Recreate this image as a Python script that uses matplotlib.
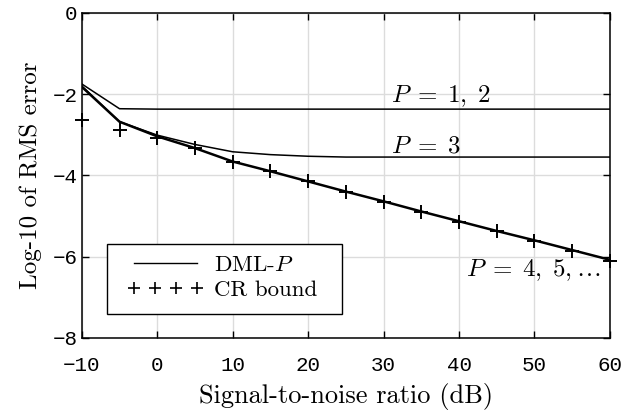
import numpy as np
import matplotlib
matplotlib.use("Agg")
import matplotlib.pyplot as plt
from matplotlib.patches import Rectangle

plt.rcParams['mathtext.fontset'] = 'cm'

snr_db = [-10, -5, 0, 5, 10, 15, 20, 25, 30, 35, 40, 45, 50, 55, 60]

# log10 RMS error, DML estimator by model order
dml_p12 = [-1.75, -2.36, -2.37, -2.37, -2.37, -2.37, -2.37, -2.37, -2.37, -2.37, -2.37, -2.37, -2.37, -2.37, -2.37]
dml_p3 = [-1.80, -2.68, -3.01, -3.24, -3.42, -3.49, -3.53, -3.55, -3.55, -3.55, -3.55, -3.55, -3.55, -3.55, -3.55]
dml_p4 = [-1.82, -2.68, -3.04, -3.33, -3.66, -3.90, -4.15, -4.40, -4.64, -4.89, -5.13, -5.37, -5.60, -5.84, -6.08]

# Cramer-Rao bound
crb = [-2.63, -2.88, -3.08, -3.33, -3.67, -3.90, -4.15, -4.40, -4.65, -4.90, -5.15, -5.37, -5.62, -5.86, -6.11]

fig = plt.figure(figsize=(6.34, 4.15), dpi=100)
ax = fig.add_axes([0.129, 0.186, 0.833, 0.783])

ax.plot(snr_db, dml_p12, color='black', lw=1.1, label='DML-$P$')
ax.plot(snr_db, dml_p3, color='black', lw=1.1)
ax.plot(snr_db, dml_p4, color='black', lw=1.8)
ax.plot(snr_db, crb, ls='none', marker='+', ms=9.5, mew=1.4, color='black',
        label='CR bound', clip_on=False, zorder=4)

ax.set_xlim(-10, 60)
ax.set_ylim(-8, 0)
ax.set_xticks(np.arange(-10, 61, 10))
ax.set_yticks([-8, -6, -4, -2, 0])
ax.grid(True, color='#dcdcdc', lw=1)
ax.set_axisbelow(True)
ax.tick_params(direction='in', top=True, right=True, length=5, width=1, labelsize=15)
ax.tick_params(axis='x', pad=13)
ax.tick_params(axis='y', pad=3)
for lbl in ax.get_xticklabels() + ax.get_yticklabels():
    lbl.set_family('Liberation Mono')
for s in ax.spines.values():
    s.set_linewidth(1.1)

ax.set_xlabel('Signal-to-noise ratio (dB)', family='cmr10', fontsize=19, labelpad=6)
ax.set_ylabel('Log-10 of RMS error', family='cmr10', fontsize=18, labelpad=8)

ax.text(31, -2.2, '$P\\;=\\;1,\\;2$', fontsize=18)
ax.text(31, -3.43, '$P\\;=\\;3$', fontsize=18)
ax.text(58.8, -6.33, '$P\\;=\\;4,\\;5,\\ldots$', fontsize=18, va='center', ha='right')

# legend box drawn separately so the inner padding can be wider than tall
ax.add_patch(Rectangle((0.047, 0.074), 0.445, 0.215, transform=ax.transAxes,
                       facecolor='white', edgecolor='black', lw=1.0, zorder=5))
leg = ax.legend(loc='upper left', bbox_to_anchor=(0.077, 0.268), numpoints=4,
                handlelength=3.36, handletextpad=0.44, frameon=False,
                prop={'family': 'cmr10', 'size': 16.5},
                borderpad=0.2, labelspacing=0.2, borderaxespad=0)
leg.set_zorder(6)
for h in leg.legend_handles:
    h.set_linewidth(1.0)
    h.set_markersize(8)
    h.set_markeredgewidth(1.2)

fig.savefig('out.png', dpi=100)
